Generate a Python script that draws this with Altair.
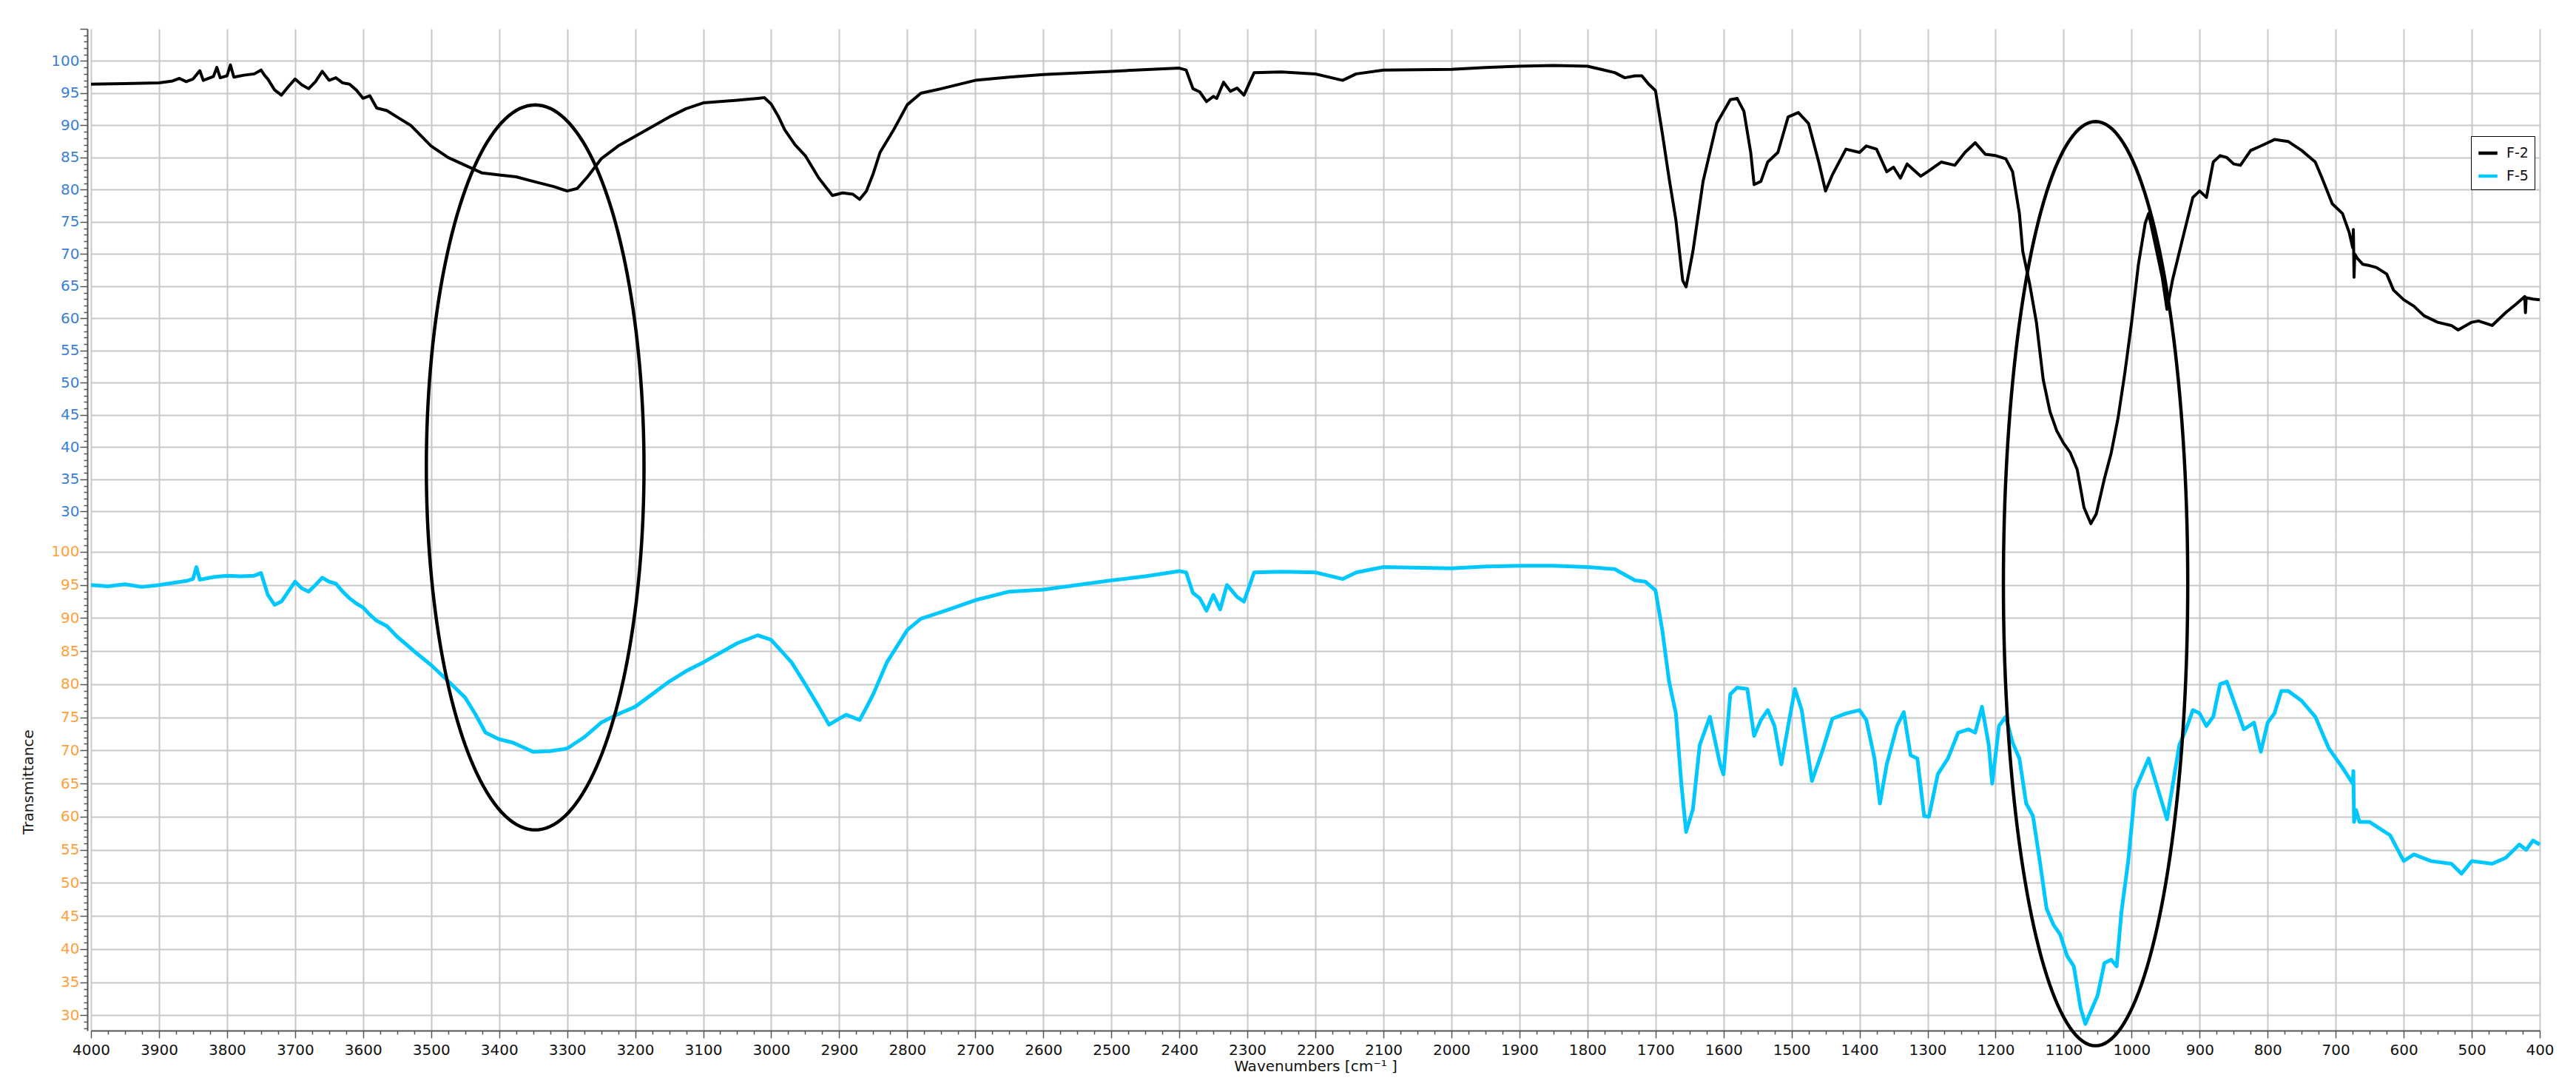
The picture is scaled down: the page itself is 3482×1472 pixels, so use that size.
import altair as alt
import pandas as pd

# ---------------- data ----------------
F2_WN = [4000, 3950, 3900, 3880, 3870, 3860, 3850, 3840, 3835, 3820, 3815, 3810, 3800, 3795, 3790,
         3775, 3760, 3750, 3745, 3740, 3730, 3720, 3710, 3700, 3690, 3680, 3670, 3660, 3650, 3640,
         3630, 3620, 3610, 3600, 3590, 3580, 3565, 3550, 3530, 3500, 3475, 3450, 3425, 3400, 3375,
         3350, 3320, 3300, 3285, 3270, 3250, 3225, 3200, 3175, 3150, 3125, 3100, 3050, 3020, 3010,
         3000, 2990, 2980, 2965, 2950, 2930, 2910, 2895, 2880, 2870, 2860, 2850, 2840, 2820, 2800,
         2780, 2750, 2700, 2650, 2600, 2500, 2400, 2390, 2380, 2370, 2360, 2350, 2345, 2335, 2325,
         2315, 2305, 2290, 2250, 2200, 2160, 2140, 2100, 2000, 1950, 1900, 1850, 1800, 1780, 1760,
         1745, 1730, 1720, 1710, 1700, 1690, 1680, 1670, 1660, 1655, 1645, 1630, 1610, 1590, 1580,
         1570, 1560, 1555, 1545, 1535, 1520, 1505, 1490, 1475, 1460, 1450, 1440, 1420, 1400, 1390,
         1375, 1360, 1350, 1340, 1330, 1310, 1300, 1280, 1260, 1245, 1230, 1215, 1200, 1185, 1175,
         1165, 1160, 1150, 1140, 1130, 1120, 1110, 1100, 1090, 1080, 1070, 1060, 1052, 1040, 1030,
         1020, 1010, 1000, 990, 980, 975, 965, 955, 948, 940, 925, 910, 900, 890, 880,
         870, 860, 850, 840, 825, 810, 800, 790, 770, 750, 730, 720, 705, 690, 680,
         675, 674, 673, 672, 668, 660, 650, 640, 625, 615, 600, 585, 570, 550, 530,
         520, 500, 490, 470, 450, 435, 422, 421, 420, 410, 400]
F2_T = [96.4, 96.5, 96.6, 96.9, 97.3, 96.8, 97.2, 98.5, 97.0, 97.6, 99.0, 97.4, 97.7, 99.4, 97.5,
        97.8, 98.0, 98.6, 97.8, 97.2, 95.5, 94.7, 96.0, 97.2, 96.3, 95.7, 96.8, 98.4, 97.0, 97.4,
        96.6, 96.4, 95.5, 94.2, 94.6, 92.7, 92.3, 91.3, 90.0, 86.8, 85.0, 83.8, 82.6, 82.3, 82.0,
        81.3, 80.5, 79.8, 80.2, 82.0, 84.8, 86.8, 88.3, 89.8, 91.3, 92.6, 93.5, 93.9, 94.2, 94.3,
        93.3, 91.5, 89.3, 87.0, 85.3, 81.8, 79.1, 79.5, 79.3, 78.5, 79.8, 82.5, 85.8, 89.3, 93.2,
        95.0, 95.7, 97.0, 97.5, 97.9, 98.4, 98.9, 98.6, 95.7, 95.2, 93.7, 94.5, 94.2, 96.7, 95.3,
        95.8, 94.7, 98.2, 98.3, 98.0, 97.0, 98.0, 98.6, 98.7, 99.0, 99.2, 99.3, 99.2, 98.7, 98.2,
        97.4, 97.7, 97.7, 96.4, 95.4, 88.8, 81.8, 75.3, 65.9, 64.9, 70.4, 81.3, 90.3, 94.0, 94.2,
        92.2, 85.8, 80.8, 81.3, 84.3, 85.8, 91.3, 92.0, 90.3, 84.3, 79.8, 82.3, 86.3, 85.8, 86.8,
        86.3, 82.8, 83.5, 81.8, 84.0, 82.1, 82.8, 84.3, 83.8, 85.8, 87.3, 85.5, 85.3, 84.8, 82.8,
        76.3, 70.4, 65.4, 59.4, 50.5, 45.5, 42.5, 40.6, 39.1, 36.5, 30.6, 28.1, 29.6, 35.1, 39.1,
        44.5, 51.5, 59.4, 68.4, 74.8, 76.3, 71.4, 66.4, 61.4, 65.9, 72.4, 78.8, 79.8, 78.8, 84.3,
        85.3, 85.0, 84.0, 83.8, 86.1, 86.8, 87.3, 87.8, 87.5, 86.1, 84.3, 81.8, 77.8, 76.3, 73.3,
        71.0, 73.8, 66.4, 70.0, 69.3, 68.4, 68.2, 67.9, 66.9, 64.4, 62.9, 61.9, 60.4, 59.4, 58.9,
        58.2, 59.4, 59.6, 58.9, 60.9, 62.2, 63.4, 60.9, 63.2, 63.0, 62.9]

F5_WN = [4000, 3975, 3950, 3925, 3900, 3880, 3860, 3850, 3845, 3840, 3820, 3800, 3780, 3760, 3750,
         3740, 3730, 3720, 3710, 3700, 3690, 3680, 3670, 3660, 3650, 3640, 3630, 3620, 3610, 3600,
         3590, 3580, 3565, 3550, 3525, 3500, 3475, 3450, 3435, 3420, 3400, 3380, 3365, 3350, 3325,
         3300, 3275, 3250, 3225, 3200, 3175, 3150, 3125, 3100, 3050, 3020, 3000, 2985, 2970, 2950,
         2930, 2915, 2905, 2890, 2880, 2870, 2860, 2850, 2830, 2800, 2780, 2750, 2700, 2650, 2600,
         2550, 2500, 2450, 2400, 2390, 2380, 2370, 2360, 2350, 2340, 2330, 2315, 2305, 2290, 2250,
         2200, 2160, 2140, 2100, 2000, 1950, 1900, 1850, 1800, 1760, 1730, 1715, 1700, 1690, 1680,
         1670, 1662, 1655, 1645, 1635, 1620, 1605, 1600, 1590, 1580, 1565, 1555, 1545, 1535, 1525,
         1515, 1505, 1495, 1485, 1470, 1455, 1440, 1420, 1400, 1390, 1378, 1370, 1360, 1345, 1335,
         1325, 1315, 1305, 1298, 1285, 1270, 1255, 1240, 1230, 1220, 1210, 1205, 1195, 1185, 1175,
         1165, 1155, 1145, 1135, 1125, 1115, 1105, 1095, 1085, 1075, 1068, 1060, 1050, 1040, 1030,
         1022, 1015, 1005, 995, 985, 975, 965, 955, 948, 940, 930, 920, 910, 900, 890,
         880, 870, 860, 845, 835, 820, 810, 800, 790, 780, 770, 750, 730, 710, 690,
         675, 674, 673, 670, 665, 650, 635, 620, 600, 585, 560, 530, 515, 500, 470,
         450, 430, 420, 410, 400]
F5_T = [95.0, 94.8, 95.1, 94.7, 95.0, 95.3, 95.6, 95.9, 97.7, 95.8, 96.2, 96.4, 96.3, 96.4, 96.8,
        93.5, 92.0, 92.5, 94.0, 95.5, 94.5, 94.0, 95.0, 96.1, 95.5, 95.2, 94.0, 93.0, 92.2, 91.6,
        90.5, 89.6, 88.8, 87.2, 85.0, 82.9, 80.5, 78.0, 75.5, 72.7, 71.7, 71.2, 70.5, 69.8, 69.9,
        70.3, 72.0, 74.2, 75.5, 76.6, 78.5, 80.4, 82.0, 83.3, 86.2, 87.4, 86.7, 85.0, 83.3, 80.0,
        76.6, 73.9, 74.5, 75.4, 75.0, 74.6, 76.5, 78.5, 83.3, 88.2, 89.9, 90.9, 92.7, 94.0, 94.3,
        95.0, 95.7, 96.3, 97.1, 96.9, 93.8, 93.0, 91.1, 93.5, 91.3, 95.0, 93.2, 92.5, 96.9, 97.0,
        96.9, 95.9, 96.9, 97.7, 97.5, 97.8, 97.9, 97.9, 97.7, 97.4, 95.7, 95.5, 94.2, 88.2, 80.4,
        75.6, 65.0, 57.7, 61.1, 70.8, 75.1, 67.9, 66.4, 78.5, 79.5, 79.3, 72.2, 74.6, 76.1, 73.7,
        67.9, 73.7, 79.3, 76.1, 65.4, 69.8, 74.8, 75.6, 76.1, 74.6, 68.8, 62.0, 67.9, 73.7, 75.8,
        69.3, 68.8, 60.1, 60.0, 66.4, 68.8, 72.7, 73.2, 72.7, 76.6, 70.8, 65.0, 73.7, 75.1, 71.2,
        68.8, 62.0, 60.1, 53.3, 46.1, 43.7, 42.2, 39.0, 37.4, 31.1, 28.7, 30.6, 33.0, 37.9, 38.4,
        37.4, 45.6, 53.3, 64.0, 66.4, 68.8, 65.4, 62.0, 59.6, 64.5, 70.8, 73.2, 76.1, 75.6, 73.7,
        75.1, 80.0, 80.4, 76.1, 73.2, 74.2, 69.8, 74.2, 75.6, 79.0, 79.0, 77.5, 75.1, 70.3, 67.4,
        65.0, 66.9, 59.2, 61.0, 59.2, 59.2, 58.2, 57.2, 53.3, 54.3, 53.3, 52.9, 51.4, 53.3, 52.9,
        53.8, 55.8, 55.0, 56.4, 55.8]

SERIES = ["F-2", "F-5"]
SERIES_COLORS = ["#000000", "#00c8ff"]

X_TICK_VALUES = list(range(400, 4001, 25))
X_GRID_VALUES = list(range(400, 4001, 100))
TOP_TICK_VALUES = list(range(27, 106))
BOTTOM_TICK_VALUES = list(range(28, 103))
TOP_DOMAIN = [26.7, 105.0]
BOTTOM_DOMAIN = [27.7, 102.9]

# annotation ellipses (wavenumber centre / half width, top / bottom in lower-panel units)
ELL_ID = ["left", "right"]
ELL_CX = [3347, 1053]
ELL_RX = [160, 135.5]
ELL_TOP = [167.5, 165.0]
ELL_BOTTOM = [58.0, 25.4]
ANGLES = list(range(0, 361, 2))

FONT = "DejaVu Sans"
TOP_LABEL_COLOR = "#3a80d6"
BOTTOM_LABEL_COLOR = "#ffa03c"
GRID_COLOR = "#c8c8c8"
AXIS_COLOR = "#555555"

# ---------------- frames ----------------
df2 = pd.DataFrame({"wn": F2_WN, "t": F2_T, "series": SERIES[0]})
df5 = pd.DataFrame({"wn": F5_WN, "t": F5_T, "series": SERIES[1]})
dfe = pd.DataFrame({"id": ELL_ID, "cx": ELL_CX, "rx": ELL_RX,
                    "top": ELL_TOP, "bottom": ELL_BOTTOM,
                    "a": [ANGLES for _ in ELL_ID]})

x_scale = alt.Scale(domain=[400, 4000], reverse=True, nice=False, zero=False)

major5 = "datum.value % 5 === 0"
label5 = "datum.value % 5 === 0 && datum.value >= 30 && datum.value <= 100"


def y_axis(values, color, title=None):
    kw = dict(
        values=values,
        labelExpr=f"({label5}) ? datum.label : ''",
        labelColor=color,
        labelFont=FONT,
        labelFontSize=20,
        labelPadding=1,
        labelOverlap=False,
        labelFlush=False,
        labelBound=False,
        offset=5,
        domainColor=AXIS_COLOR,
        domainWidth=2,
        tickColor=AXIS_COLOR,
        tickWidth=1.5,
        tickSize={"condition": {"test": major5, "value": 10}, "value": 5},
        grid=True,
        gridColor=GRID_COLOR,
        gridWidth=2,
        gridOpacity={"condition": {"test": label5, "value": 1}, "value": 0},
    )
    if title:
        kw.update(title=title, titleFont=FONT, titleFontSize=20, titleFontWeight="normal",
                  titleColor="#1a1a1a", titlePadding=20)
    else:
        kw.update(title=None)
    return alt.Axis(**kw)


top_x_axis = alt.Axis(values=X_GRID_VALUES, labels=False, ticks=False, domain=False,
                      grid=True, gridColor=GRID_COLOR, gridWidth=2, title=None)

bottom_x_axis = alt.Axis(
    values=X_TICK_VALUES,
    format="d",
    labelExpr="datum.value % 100 === 0 ? datum.label : ''",
    labelFont=FONT, labelFontSize=20, labelColor="#111111",
    labelPadding=6, labelOverlap=False, labelFlush=False, labelBound=False,
    domainColor=AXIS_COLOR, domainWidth=2,
    tickColor=AXIS_COLOR, tickWidth=1.5,
    tickSize={"condition": {"test": "datum.value % 100 === 0", "value": 10}, "value": 5},
    grid=True, gridColor=GRID_COLOR, gridWidth=2,
    gridOpacity={"condition": {"test": "datum.value % 100 === 0", "value": 1}, "value": 0},
    title="Wavenumbers [cm\u207b\u00b9 ]", titleFont=FONT, titleFontSize=20,
    titleFontWeight="normal", titleColor="#111111", titlePadding=2,
)

legend = alt.Legend(
    title=None, orient="none", legendX=3217, legendY=145, direction="vertical",
    strokeColor="#000000", fillColor="#ffffff", padding=8,
    symbolType="stroke", symbolStrokeWidth=4.5, symbolSize=650,
    labelFont=FONT, labelFontSize=19, labelColor="#111111", rowPadding=6, labelOffset=10,
)

top = alt.Chart(df2).mark_line(strokeWidth=4, strokeJoin="round").encode(
    x=alt.X("wn:Q", scale=x_scale, axis=top_x_axis),
    y=alt.Y("t:Q", scale=alt.Scale(domain=TOP_DOMAIN, nice=False, zero=False),
            axis=y_axis(TOP_TICK_VALUES, TOP_LABEL_COLOR)),
    color=alt.Color("series:N", scale=alt.Scale(domain=SERIES, range=SERIES_COLORS),
                    legend=legend),
).properties(width=3310, height=681)

bottom_y_scale = alt.Scale(domain=BOTTOM_DOMAIN, nice=False, zero=False)
bottom_axis = y_axis(BOTTOM_TICK_VALUES, BOTTOM_LABEL_COLOR, "Transmittance")

bottom_line = alt.Chart(df5).mark_line(strokeWidth=5, strokeJoin="round",
                                        color=SERIES_COLORS[1]).encode(
    x=alt.X("wn:Q", scale=x_scale, axis=bottom_x_axis),
    y=alt.Y("t:Q", scale=bottom_y_scale, axis=bottom_axis),
)

ellipses = alt.Chart(dfe).transform_flatten(["a"]).transform_calculate(
    wn="datum.cx + datum.rx * cos(datum.a * PI / 180)",
    t="(datum.top + datum.bottom) / 2 + (datum.top - datum.bottom) / 2 * sin(datum.a * PI / 180)",
).mark_line(color="#000000", strokeWidth=4.5).encode(
    x=alt.X("wn:Q", scale=x_scale, axis=bottom_x_axis),
    y=alt.Y("t:Q", scale=bottom_y_scale, axis=bottom_axis),
    detail="id:N",
    order=alt.Order("a:Q"),
)

bottom = alt.layer(bottom_line, ellipses).properties(width=3310, height=673)

chart = alt.vconcat(top, bottom, spacing=0, bounds="flush").resolve_legend(
    color="independent"
).properties(
    padding={"left": 20, "top": 20, "right": 10, "bottom": 10},
    background="#ffffff",
).configure_view(stroke="transparent")

chart.save("out.html", embed_options={"renderer": "svg", "actions": False})
